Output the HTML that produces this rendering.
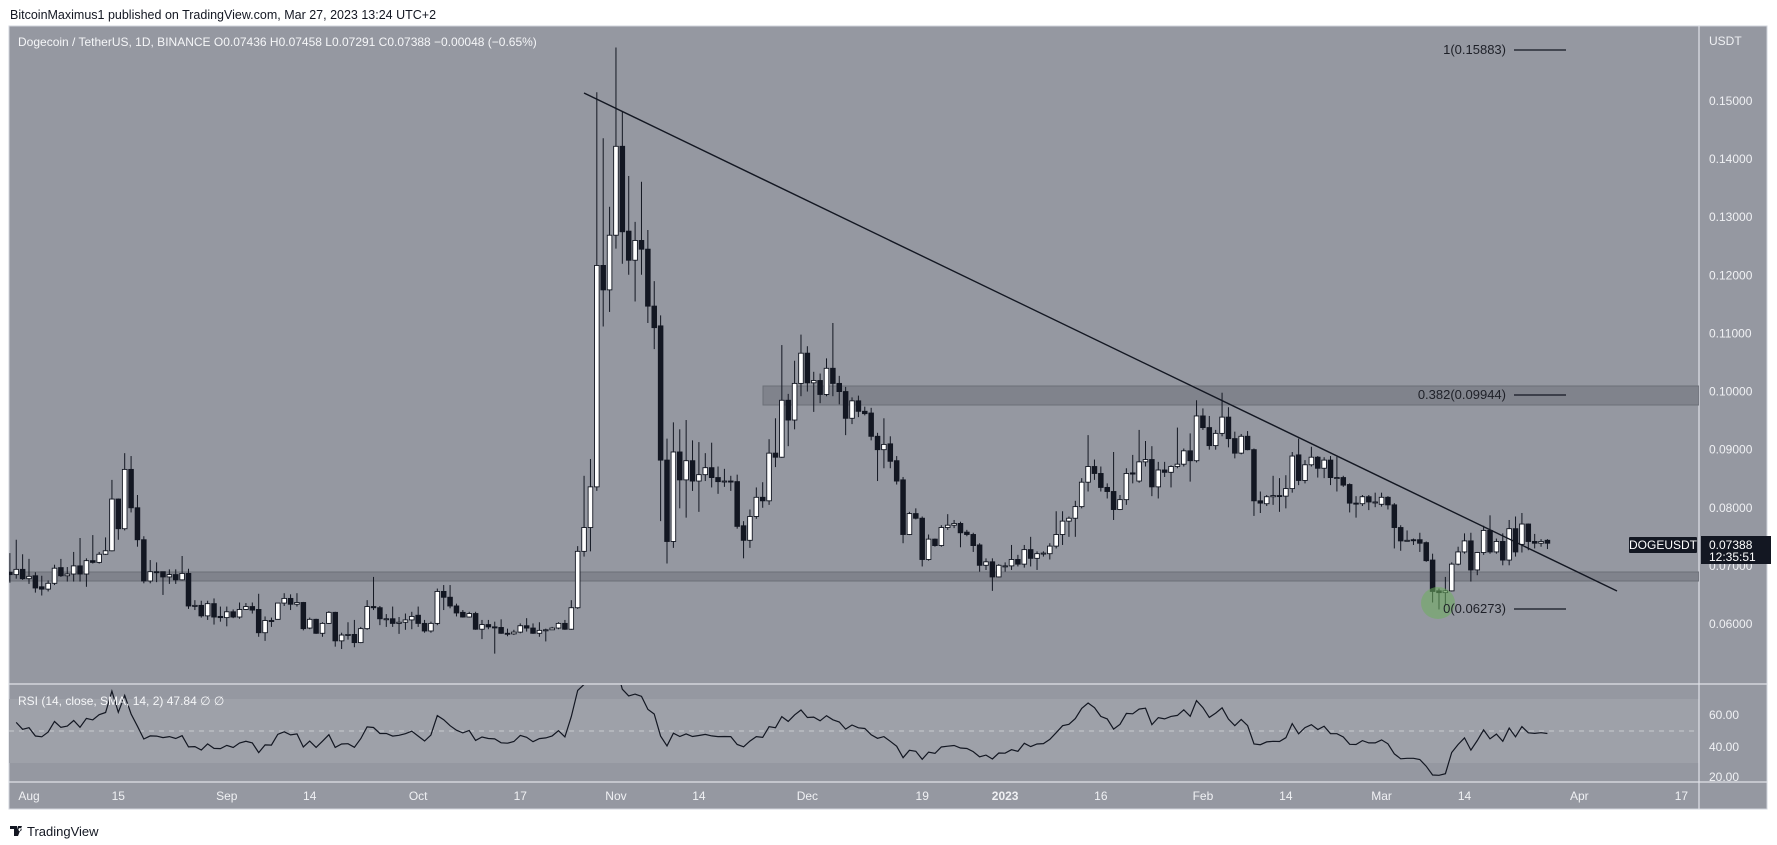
<!DOCTYPE html>
<html><head><meta charset="utf-8">
<style>
html,body{margin:0;padding:0;background:#fff;}
svg{display:block;font-family:"Liberation Sans",sans-serif;}
</style></head>
<body>
<svg id="chart" width="1777" height="845" viewBox="0 0 1777 845">
  <defs>
    <clipPath id="priceClip"><rect x="9" y="26" width="1690" height="658"/></clipPath>
    <clipPath id="rsiClip"><rect x="9" y="685" width="1690" height="97"/></clipPath>
  </defs>
  <text x="10" y="19" font-size="12.5" fill="#131722">BitcoinMaximus1 published on TradingView.com, Mar 27, 2023 13:24 UTC+2</text>
  <rect x="9" y="26" width="1758" height="783" fill="#9598a1" stroke="#d1d4dc" stroke-width="1"/>
  <rect x="9" y="699" width="1690" height="64" fill="#9ea1a9"/>
  <line x1="9" y1="731" x2="1699" y2="731" stroke="#c8cad0" stroke-dasharray="5,5" stroke-width="1"/>
  <line x1="1699" y1="26" x2="1699" y2="809" stroke="#e0e2e8" stroke-width="1.2"/>
  <line x1="9" y1="684" x2="1767" y2="684" stroke="#e0e2e8" stroke-width="1.2"/>
  <line x1="9" y1="782" x2="1767" y2="782" stroke="#e0e2e8" stroke-width="1.2"/>

  <g clip-path="url(#priceClip)">
    <rect x="763" y="386" width="936" height="19" fill="#80838c" stroke="#6c6f78" stroke-width="1"/>
    <rect x="9" y="572" width="1690" height="9" fill="#80838c" stroke="#6c6f78" stroke-width="1"/>
    <g id="candles"></g>
    <line x1="584" y1="93" x2="1617" y2="591" stroke="#131722" stroke-width="1.4"/>
    <ellipse cx="1438" cy="603" rx="17" ry="16" fill="rgba(110,175,95,0.55)"/>
  </g>

  <text x="18" y="46" font-size="12" fill="#f5f6f8">Dogecoin / TetherUS, 1D, BINANCE  O0.07436  H0.07458  L0.07291  C0.07388  −0.00048 (−0.65%)</text>

  <text x="1506" y="54" font-size="13" fill="#1e2028" text-anchor="end">1(0.15883)</text>
  <line x1="1514" y1="50" x2="1566" y2="50" stroke="#131722" stroke-width="1.2"/>
  <text x="1506" y="399" font-size="13" fill="#1e2028" text-anchor="end">0.382(0.09944)</text>
  <line x1="1514" y1="395" x2="1566" y2="395" stroke="#131722" stroke-width="1.2"/>
  <text x="1506" y="613" font-size="13" fill="#1e2028" text-anchor="end">0(0.06273)</text>
  <line x1="1514" y1="609" x2="1566" y2="609" stroke="#131722" stroke-width="1.2"/>

  <text x="1709" y="45" font-size="12" fill="#f0f1f4">USDT</text>
  <g id="priceTicks" font-size="12" fill="#f0f1f4"></g>

  <rect x="1629" y="537" width="68" height="16" fill="#131722" rx="1"/>
  <text x="1663" y="549" font-size="12" fill="#ffffff" text-anchor="middle">DOGEUSDT</text>
  <rect x="1701" y="536" width="70" height="28" fill="#131722"/>
  <text x="1709" y="549" font-size="12" fill="#ffffff">0.07388</text>
  <text x="1709" y="561" font-size="12" fill="#ffffff">12:35:51</text>

  <g clip-path="url(#rsiClip)"><polyline id="rsiLine" fill="none" stroke="#131722" stroke-width="1.2"/></g>
  <text x="18" y="705" font-size="12" fill="#f5f6f8">RSI (14, close, SMA, 14, 2)  47.84  ∅  ∅</text>
  <g id="rsiTicks" font-size="12" fill="#f0f1f4"></g>
  <g id="timeTicks" font-size="12" fill="#f0f1f4"></g>

  <g>
    <path d="M10 826 h7 v10 h-3 v-7 h-4 z M18 826 h4 l-4 10 h-3 z M20 828 a1.6 1.6 0 1 0 0.01 0 z" fill="#131722"/>
    <text x="27" y="836" font-size="13" fill="#131722">TradingView</text>
  </g>
</svg>
<script>
// Price values in units of 0.0001 USDT, one candle per day starting Jul 29 2022 (day -3 from Aug 1)
const firstDay = -3;
const opens = [689,685,694,678,683,664,660,670,697,683,686,700,686,709,706,720,726,815,764,866,800,745,674,690,690,681,685,676,687,631,632,614,635,613,611,621,612,625,630,625,585,606,608,636,644,634,637,593,608,584,601,620,571,581,582,568,592,630,628,609,609,601,603,607,615,601,588,601,656,646,631,620,612,618,591,599,595,594,584,583,586,597,593,584,589,590,593,601,591,628,
725,766,836,1217,1175,1269,1422,1276,1226,1260,1245,1147,1113,882,742,896,848,881,846,857,869,852,845,846,845,769,744,785,818,812,894,887,985,951,1014,1066,1015,1019,995,1040,1014,1000,954,984,966,963,923,900,910,881,
848,754,790,782,711,746,735,766,770,773,758,754,736,701,707,681,700,700,711,703,728,713,721,721,734,754,777,782,802,844,871,859,835,828,797,814,860,846,879,883,836,865,861,871,875,898,881,958,938,907,928,956,919,894,923,900,812,807,819,821,820,833,891,847,874,887,868,882,852,852,840,808,807,819,810,806,818,805,766,744,745,745,740,710,657,654,657,703,724,743,693,723,761,724,742,710,764,737,772,742,739,744];
const highs = [722,745,720,712,689,683,675,702,712,698,724,748,713,753,724,749,848,816,894,889,822,751,710,706,690,694,694,717,695,641,640,640,644,630,630,625,637,636,637,652,613,611,636,653,651,653,638,611,609,603,622,621,585,603,607,595,641,681,631,617,630,612,618,621,630,607,604,661,667,667,635,624,621,621,607,607,604,608,592,590,601,610,601,603,592,595,603,607,641,734,
855,884,1515,1436,1318,1592,1482,1371,1292,1361,1278,1190,1131,919,947,935,951,916,913,894,912,871,867,855,857,777,797,835,844,918,954,1080,996,1053,1098,1078,1034,1031,1057,1118,1027,1008,990,993,974,972,929,954,923,889,
853,793,799,785,754,747,770,789,779,776,762,757,739,713,713,703,706,736,719,736,750,725,725,739,794,794,785,812,851,925,883,871,842,896,822,868,891,934,915,906,879,879,873,938,902,928,985,971,958,934,998,973,931,927,932,902,828,822,855,851,856,896,919,882,905,889,887,889,888,855,842,820,822,822,826,826,820,808,770,761,747,757,742,721,661,681,706,733,756,757,724,769,787,747,756,779,785,791,773,755,746,746];
const lows = [671,678,676,669,654,649,656,667,681,673,673,673,664,704,704,719,725,745,761,792,733,670,670,672,650,669,669,675,626,624,611,607,599,604,596,610,609,624,618,578,571,595,608,631,624,630,589,591,583,578,600,561,557,573,560,567,590,624,598,595,595,583,590,591,595,585,585,598,624,627,613,611,611,590,574,591,549,583,579,581,584,587,583,578,570,590,591,590,590,626,
716,725,829,1112,1137,1246,1220,1201,1155,1201,1118,1073,777,704,731,799,783,829,793,846,835,824,836,829,764,713,731,781,800,805,870,886,906,935,992,1000,965,980,992,992,978,925,944,956,959,916,846,868,868,840,
739,753,780,699,709,733,733,762,765,732,751,724,690,693,657,680,690,693,699,697,699,693,716,711,730,736,750,750,799,828,848,828,816,779,796,805,842,843,871,820,816,853,835,868,871,845,878,934,900,900,923,904,885,892,899,786,791,803,805,793,799,826,839,842,871,852,851,839,828,836,792,783,803,796,801,802,797,730,726,742,736,724,707,637,625,633,656,701,721,673,684,719,721,721,701,701,716,723,727,730,733,729];
const closes = [685,694,678,682,662,660,670,696,683,686,700,686,709,706,720,726,815,764,866,800,745,674,690,689,681,685,676,687,631,632,614,635,612,611,621,612,625,630,624,585,606,605,636,644,634,637,592,608,584,601,620,571,581,582,568,592,630,628,609,609,601,603,607,613,601,588,601,656,646,631,619,612,618,591,599,595,594,584,583,586,597,593,584,589,590,593,601,591,628,725,
766,836,1217,1175,1269,1422,1275,1226,1260,1245,1147,1110,882,742,896,848,881,846,857,869,852,845,846,845,768,744,785,818,812,894,887,985,951,1014,1066,1015,1019,995,1040,1014,1000,954,984,966,962,923,900,909,880,846,
754,790,782,711,746,735,766,770,773,757,754,735,701,707,681,701,700,711,703,728,713,721,722,734,754,777,782,802,844,871,859,835,828,797,814,859,858,879,883,836,865,861,871,875,898,881,958,938,907,928,956,919,894,923,900,812,808,819,821,820,833,889,847,874,887,868,882,852,852,839,808,807,819,810,810,818,805,766,743,744,744,739,709,656,654,657,703,724,743,693,723,761,724,742,710,764,724,772,742,739,742,739];
const priceTickLabels = ["0.15000","0.14000","0.13000","0.12000","0.11000","0.10000","0.09000","0.08000","0.07000","0.06000"];
const priceTickValues = [1500,1400,1300,1200,1100,1000,900,800,700,600];
const rsiTickLabels = ["60.00","40.00","20.00"];
const rsiTickValues = [60,40,20];
const timeLabels = ["Aug","15","Sep","14","Oct","17","Nov","14","Dec","19","2023","16","Feb","14","Mar","14","Apr","17"];
const timeDays = [0,14,31,44,61,77,92,105,122,140,153,168,184,197,212,225,243,259];

const NS = "http://www.w3.org/2000/svg";
function xDay(d){ return 29 + d * 6.38; }
function yPrice(p){ return 101 + (1500 - p) * 0.5811; }
function yRsi(r){ return 731 - (r - 50) * 1.6; }

const cg = document.getElementById('candles');
for (let i = 0; i < closes.length; i++) {
  const x = xDay(firstDay + i);
  const o = opens[i], c = closes[i], h = highs[i], l = lows[i];
  const up = c >= o;
  const g = document.createElementNS(NS, 'g');
  
  
  const w = document.createElementNS(NS, 'line');
  w.setAttribute('x1', x); w.setAttribute('x2', x);
  w.setAttribute('y1', yPrice(h)); w.setAttribute('y2', yPrice(l));
  w.setAttribute('stroke', '#131722'); w.setAttribute('stroke-width', '1');
  
  
  g.appendChild(w);
  const b = document.createElementNS(NS, 'rect');
  const top = yPrice(Math.max(o, c)), bot = yPrice(Math.min(o, c));
  b.setAttribute('x', x - 2.3); b.setAttribute('width', 4.6);
  b.setAttribute('y', top); b.setAttribute('height', Math.max(1, bot - top));
  b.setAttribute('fill', up ? '#ffffff' : '#131722');
  b.setAttribute('stroke', '#131722'); b.setAttribute('stroke-width', '0.9');
  
  
  g.appendChild(b);
  cg.appendChild(g);
}

// RSI(14) computed from the closes (Wilder smoothing)
let ag = 8, al = 7, pts = [];
for (let i = 1; i < closes.length; i++) {
  const ch = closes[i] - closes[i-1];
  ag = (ag * 13 + Math.max(ch, 0)) / 14;
  al = (al * 13 + Math.max(-ch, 0)) / 14;
  const r = al === 0 ? 100 : 100 - 100 / (1 + ag / al);
  pts.push(xDay(firstDay + i).toFixed(1) + ',' + yRsi(r).toFixed(1));
}
document.getElementById('rsiLine').setAttribute('points', pts.join(' '));

const pt = document.getElementById('priceTicks');
priceTickValues.forEach((v, i) => {
  const t = document.createElementNS(NS, 'text');
  t.setAttribute('x', 1709); t.setAttribute('y', yPrice(v) + 4);
  t.textContent = priceTickLabels[i];
  
  
  pt.appendChild(t);
});
const rt = document.getElementById('rsiTicks');
rsiTickValues.forEach((v, i) => {
  const t = document.createElementNS(NS, 'text');
  t.setAttribute('x', 1709); t.setAttribute('y', Math.min(yRsi(v) + 4, 781));
  t.textContent = rsiTickLabels[i];
  
  
  rt.appendChild(t);
});
const tt = document.getElementById('timeTicks');
timeDays.forEach((d, i) => {
  const t = document.createElementNS(NS, 'text');
  t.setAttribute('x', xDay(d)); t.setAttribute('y', 800);
  t.setAttribute('text-anchor', 'middle');
  if (timeLabels[i] === '2023') t.setAttribute('font-weight', 'bold');
  t.textContent = timeLabels[i];
  
  
  tt.appendChild(t);
});
</script>
</body></html>
